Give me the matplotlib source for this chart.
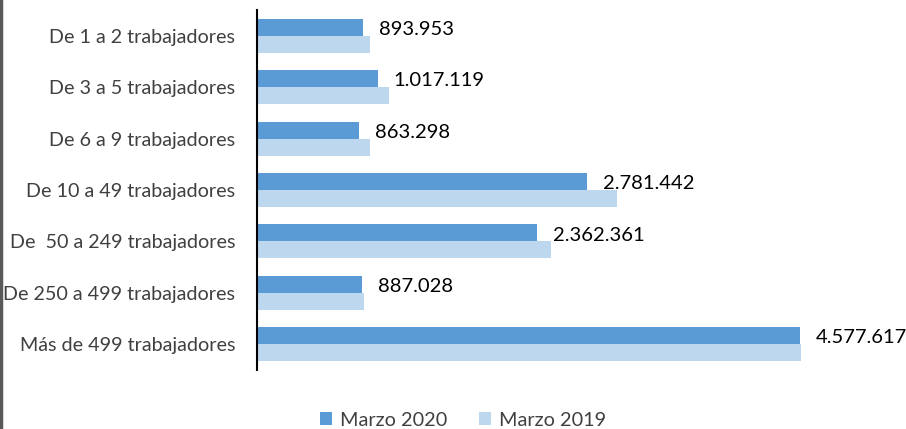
import matplotlib.pyplot as plt
import numpy as np
from matplotlib.lines import Line2D

# Data
categorias = ["De 1 a 2 trabajadores", "De 3 a 5 trabajadores", "De 6 a 9 trabajadores",
              "De 10 a 49 trabajadores", "De  50 a 249 trabajadores",
              "De 250 a 499 trabajadores", "Más de 499 trabajadores"]
marzo_2020 = [893953, 1017119, 863298, 2781442, 2362361, 887028, 4577617]
marzo_2019 = [952000, 1112000, 952000, 3034000, 2481000, 902000, 4585000]
etiquetas_2020 = ["893.953", "1.017.119", "863.298", "2.781.442", "2.362.361", "887.028", "4.577.617"]

color_2020 = "#5B9BD5"
color_2019 = "#BDD7EE"

plt.rcParams['font.family'] = ['Lato', 'DejaVu Sans']

fig = plt.figure(figsize=(9.06, 4.29), dpi=100)
ax = fig.add_axes([257 / 906, 1 - 370 / 429, (850 - 257) / 906, 360 / 429])

y = np.arange(len(categorias))
h = 0.33
ax.barh(y - h / 2, marzo_2020, height=h, color=color_2020, label="Marzo 2020")
ax.barh(y + h / 2, marzo_2019, height=h, color=color_2019, label="Marzo 2019")

# value labels next to the 2020 bars
for i, (v, txt) in enumerate(zip(marzo_2020, etiquetas_2020)):
    ax.annotate(txt, (v, i - h / 2), xytext=(11.5, -1.5), textcoords="offset points",
                ha="left", va="center", fontsize=14.5, color="black")

ax.set_xlim(0, 5e6)
ax.set_ylim(len(categorias) - 0.5, -0.5)
ax.set_yticks(y)
ax.set_yticklabels(categorias, fontsize=14.2, color="#404040")
ax.tick_params(axis="y", length=0, pad=15.5)
ax.set_xticks([])
for s in ["top", "right", "bottom"]:
    ax.spines[s].set_visible(False)
ax.spines["left"].set_linewidth(1.5)
ax.spines["left"].set_color("black")

ax.legend(loc="center", bbox_to_anchor=(463 / 906, 1 - 420 / 429),
          bbox_transform=fig.transFigure, ncol=2, frameon=False,
          fontsize=14.3, handlelength=0.6, handleheight=0.6,
          handletextpad=0.4, columnspacing=1.6, labelcolor="#404040")

# grey border on the left edge of the image
fig.add_artist(Line2D([0.001, 0.001], [0, 1], transform=fig.transFigure,
                      color="#595959", linewidth=2.5))

fig.savefig("out.png", dpi=100)
